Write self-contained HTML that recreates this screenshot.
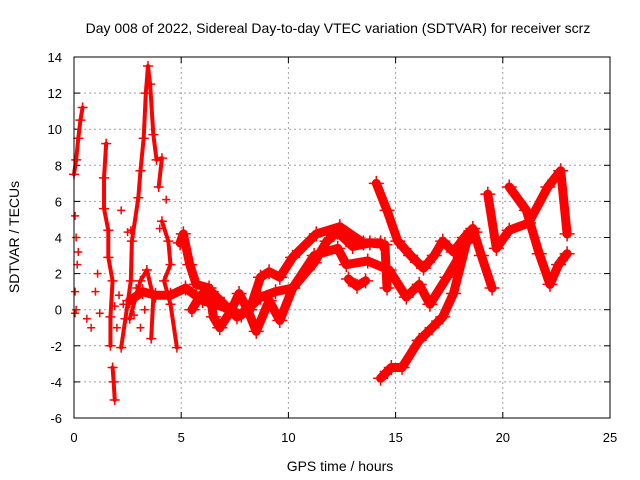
<!DOCTYPE html>
<html><head><meta charset="utf-8"><style>
body{margin:0;background:#fff}
svg{font-family:"Liberation Sans",sans-serif;display:block}
</style></head><body>
<svg id="chart" width="640" height="480" viewBox="0 0 640 480">
<rect width="640" height="480" fill="#fff"/>
<text x="338" y="33" font-size="14" text-anchor="middle">Day 008 of 2022, Sidereal Day-to-day VTEC variation (SDTVAR) for receiver scrz</text>
<text x="340" y="471" font-size="14" text-anchor="middle">GPS time / hours</text>
<text transform="translate(19,237) rotate(-90)" font-size="14" text-anchor="middle">SDTVAR / TECUs</text>
<g id="grid"></g>
<g id="ticks"></g>
<g id="marks"></g>
<rect x="74" y="57" width="536" height="361" fill="none" stroke="#000" stroke-width="1"/>
</svg>
<script>
const xTicks=[0,5,10,15,20,25];
const yTicks=[-6,-4,-2,0,2,4,6,8,10,12,14];
// thin early tracks
const earlyA=[[0,7.5],[0.1,8.3],[0.2,9.5],[0.3,10.5],[0.4,11.2]];
const earlyB=[[1.5,9.2],[1.4,7.3],[1.4,5.6],[1.6,4.4],[1.6,2.9],[1.8,1.6],[1.7,-0.4],[1.7,-2.0]];
const earlyC=[[2.2,-2.1],[2.4,-0.5],[2.65,1.6],[2.7,3.8],[3.0,6.2],[3.1,7.7],[3.25,9.5],[3.35,12],[3.45,13.5],[3.55,12.5],[3.7,9.7],[3.85,8.3],[4.1,8.4],[3.95,6.8]];
const earlyD=[[4.1,4.9],[4.4,3.8],[4.5,2.5],[4.2,1.6],[4.5,0.3],[4.8,-2.1]];
const earlyE=[[2.6,-0.5],[3.1,1.6],[3.4,2.2],[3.7,0.7],[3.6,-1.6]];
const earlyF=[[1.8,-3.2],[1.85,-4],[1.9,-5]];
// thick main tracks
const trackC=[[4.95,3.7],[5.1,4.2],[5.4,2.5],[5.7,1.4],[6.3,1.2],[6.5,-0.4],[6.8,-1],[7.3,-0.1],[7.7,0.9],[8.1,0],[8.5,-1.2],[9.1,0.5],[9.6,-0.6],[10.2,1.2],[11.2,2.6],[11.8,3.8],[12.3,4.3],[13,3.5],[13.8,3.7],[14.5,3.6],[14.6,1.2]];
const trackD=[[2.6,0.5],[3.2,1],[3.8,0.8],[4.5,0.8],[5.2,1.2],[6,0.5],[7.1,0.1],[7.8,-0.3],[8.7,0.7],[9.4,1.0],[10.2,1.2],[11.2,3],[12.3,3.4],[12.7,2.5],[13.7,2.7],[14.7,2.2],[15.5,0.7],[16.1,1.4],[16.6,0.3],[17.4,1.8],[18.0,3],[18.5,4.3]];
const trackE=[[5.5,0],[5.9,0.8],[6.4,1],[7.0,0.3],[7.6,-0.4],[8.2,0],[8.7,1.8],[9.1,2.1],[9.6,1.8],[10.2,2.9],[11.3,4.2],[12.4,4.6],[13.5,3.7],[14.3,3.7]];
const trackF=[[12.8,1.7],[13.2,1.3],[13.6,1.6]];
const trackG=[[14.1,7.0],[14.6,5.5],[15.1,3.8],[15.7,3.0],[16.3,2.3],[16.8,3],[17.2,3.8],[17.7,3.2],[18.2,4],[18.6,4.5],[19.0,3],[19.5,1.2]];
const trackH=[[14.3,-3.8],[14.8,-3.2],[15.3,-3.2],[16.1,-1.7],[16.7,-1],[17.2,-0.4],[17.7,0.9],[18.3,3.7],[18.7,4.3]];
const trackI=[[19.3,6.4],[19.7,3.4],[20.3,4.4],[21.2,4.8],[22.1,6.8],[22.7,7.7],[23.0,4.2]];
const trackJ=[[20.3,6.8],[21.1,5.5],[21.7,3.1],[22.2,1.4],[22.6,2.5],[23,3.1]];
const scatterPts=[[0.05,5.2],[0.1,4],[0.15,2.5],[0.05,1],[0.1,0],[0.2,3.2],[0.05,-0.2],[0.8,-1],[1.0,1],[1.1,2],[0.6,-0.5],[1.2,-0.2],[2.2,5.5],[2.5,4.3],[2.65,4.4],[2.3,0.3],[2.9,1.2],[3.1,-1],[4.3,6.1],[4.0,4.5],[2.0,-1],[3.3,0],[2.8,-0.3],[1.9,0.2],[2.1,0.8]];
const thinTracks=[earlyA,earlyB,earlyC,earlyD,earlyE,earlyF];
const thickTracks=[trackC,trackD,trackE,trackF,trackG,trackH,trackI,trackJ];
const X0=74,X1=610,Y0=418,Y1=57;
function sx(t){return X0+(t-0)/(25-0)*(X1-X0);}
function sy(v){return Y0-(v+6)/(14+6)*(Y0-Y1);}
const NS="http://www.w3.org/2000/svg";
const grid=document.getElementById('grid'),ticks=document.getElementById('ticks'),marks=document.getElementById('marks');
function mk(tag,attrs,parent){const e=document.createElementNS(NS,tag);for(const k in attrs)e.setAttribute(k,attrs[k]);parent.appendChild(e);return e;}
xTicks.forEach(t=>{const x=sx(t);
 if(t>0&&t<25){const g=mk('line',{x1:x,x2:x,y1:Y1,y2:Y0,stroke:'#a0a0a0','stroke-dasharray':'2,3'},grid);
 
 }
 mk('line',{x1:x,x2:x,y1:Y0,y2:Y0-6,stroke:'#000'},ticks);mk('line',{x1:x,x2:x,y1:Y1,y2:Y1+6,stroke:'#000'},ticks);
 const l=mk('text',{x:x,y:442,'font-size':13,'text-anchor':'middle'},ticks);l.textContent=t;
 
 });
yTicks.forEach(v=>{const y=sy(v);
 if(v>-6&&v<14){const g=mk('line',{x1:X0,x2:X1,y1:y,y2:y,stroke:'#a0a0a0','stroke-dasharray':'2,3'},grid);
 
 }
 mk('line',{x1:X0,x2:X0+6,y1:y,y2:y,stroke:'#000'},ticks);mk('line',{x1:X1,x2:X1-6,y1:y,y2:y,stroke:'#000'},ticks);
 const l=mk('text',{x:62,y:y+5,'font-size':13,'text-anchor':'end'},ticks);l.textContent=v;
 
 });
function plus(t,v,s){const x=sx(t),y=sy(v);
 const p=mk('path',{d:`M${x-s},${y}h${2*s}M${x},${y-s}v${2*s}`,stroke:'#f00','stroke-width':1.5},marks);
 
 }
function drawTrack(tr,w){
 const pl=mk('polyline',{points:tr.map(p=>sx(p[0])+','+sy(p[1])).join(' '),fill:'none',stroke:'#f00','stroke-width':w,'stroke-linejoin':'round','stroke-linecap':'round'},marks);
 
 
 tr.forEach(p=>plus(p[0],p[1],w/2+3));}
thinTracks.forEach(tr=>drawTrack(tr,4));
thickTracks.forEach(tr=>drawTrack(tr,9));
scatterPts.forEach(p=>plus(p[0],p[1],4));
</script>
</body></html>
